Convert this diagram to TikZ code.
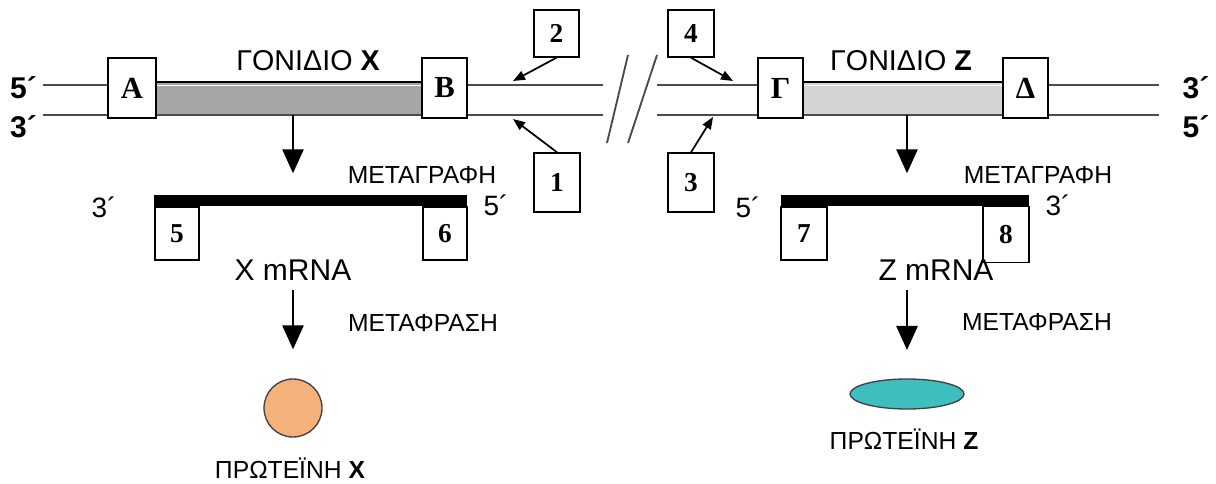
\documentclass[tikz,border=0pt]{standalone}
\usepackage{fontspec}
\setmainfont{Liberation Sans}
\newfontfamily\boxfont{Liberation Serif}
\usetikzlibrary{arrows.meta,shapes.geometric}

\definecolor{strand}{RGB}{75,75,75}
\definecolor{geneX}{RGB}{166,166,166}
\definecolor{geneZ}{RGB}{212,212,212}
\definecolor{protX}{RGB}{245,177,122}
\definecolor{protZ}{RGB}{62,190,190}

\newcommand{\fs}[1]{\fontsize{#1}{#1}\selectfont}

\begin{document}
\begin{tikzpicture}[x=0.75pt,y=-0.75pt,
  strandline/.style={draw=strand,line width=1.8pt},
  labelbox/.style={draw,line width=1.3pt,fill=white,inner sep=0pt,
    font=\boxfont\bfseries\fs{23}},
  genebox/.style={labelbox,minimum width=34pt,minimum height=45pt},
  numbox/.style={labelbox,minimum width=34pt,minimum height=35pt,
    font=\boxfont\bfseries\fs{20.5}},
  rnabox/.style={numbox,minimum width=33.5pt,minimum height=40pt},
  genelabel/.style={inner sep=0pt,font=\fs{21.5}},
  endlabel/.style={inner sep=0pt,font=\bfseries\fs{22.5}},
  rnaend/.style={inner sep=0pt,font=\fs{21}},
  steplabel/.style={inner sep=0pt,font=\fs{18.5}},
  rnalabel/.style={inner sep=0pt,font=\fs{22.5}},
  protlabel/.style={inner sep=0pt,font=\fs{18.5}},
  bigarrow/.style={line width=1.2pt,-{Triangle[width=16pt,length=18pt]}},
  smallarrow/.style={line width=1.3pt,-{Triangle[width=7pt,length=9pt]}},
  slash/.style={draw=strand,line width=1.4pt}]

\useasboundingbox (0,0) rectangle (1216,484);

% DNA strands on both sides of the break
\draw[strandline] (43,85) -- (603,85);
\draw[strandline] (43,115) -- (603,115);
\draw[strandline] (657,85) -- (1159,85);
\draw[strandline] (657,115) -- (1159,115);

% the break
\draw[slash] (607,143) -- (628,55);
\draw[slash] (628,143) -- (657,55);

% coding regions of the two genes
\node[fill=geneX,minimum width=199.5pt,minimum height=24.75pt,inner sep=0pt] (gX) at (289,98.5) {};
\node[fill=geneZ,minimum width=150pt,minimum height=24.75pt,inner sep=0pt] (gZ) at (903,98.5) {};
\draw[line width=1.3pt] (gX.north west) -- (gX.north east);
\draw[line width=1.3pt] (gZ.north west) -- (gZ.north east);
\draw[white,line width=0.8pt] ([yshift=-2.5pt]gX.north west) -- ([yshift=-2.5pt]gX.north east);
\draw[white,line width=0.8pt] ([yshift=-2.5pt]gZ.north west) -- ([yshift=-2.5pt]gZ.north east);
\draw[strand,line width=1.3pt] (gX.south west) -- (gX.south east);
\draw[strand,line width=1.3pt] (gZ.south west) -- (gZ.south east);

% end labels of the strands
\node[endlabel] (l5) at (23.5,88) {5´};
\node[endlabel] (l3) at (23.5,127) {3´};
\node[endlabel] (r3) at (1196,88) {3´};
\node[endlabel] (r5) at (1196,127) {5´};

% gene names
\node[genelabel] (nX) at (308,61) {ΓΟΝΙΔΙΟ \textbf{X}};
\node[genelabel] (nZ) at (901,61) {ΓΟΝΙΔΙΟ \textbf{Z}};

% boundary boxes of the genes
\node[genebox,minimum width=36pt] (A) at (132,88) {A};
\node[genebox] (B) at (444.5,88) {B};
\node[genebox] (G) at (780.5,88) {Γ};
\node[genebox] (D) at (1025.5,88) {Δ};

% numbered boxes pointing at the strands
\node[numbox] (n2) at (556.5,33.5) {2};
\node[numbox] (n4) at (691,33.5) {4};
\node[numbox,minimum height=44pt] (n1) at (557,182.5) {1};
\node[numbox,minimum height=44pt] (n3) at (691,182.5) {3};

\coordinate (t2) at (513,81);
\coordinate (t1) at (513,119);
\coordinate (t4) at (733,81);
\coordinate (t3) at (713,117);
\draw[smallarrow] (n2.south) -- (t2);
\draw[smallarrow] (n1.north) -- (t1);
\draw[smallarrow] (n4.south) -- (t4);
\draw[smallarrow] (n3.north) -- (t3);

% transcripts
\fill (154,195) rectangle (467,206);
\fill (781,195) rectangle (1029,206);
\node[rnabox] (n5) at (177,233.5) {5};
\node[rnabox] (n6) at (445,233.5) {6};
\node[rnabox,minimum width=34.5pt] (n7) at (804,233.5) {7};
\node[rnabox,minimum width=34.5pt,minimum height=42pt] (n8) at (1006,234.5) {8};

\node[rnaend] (m3l) at (104,207) {3´};
\node[rnaend] (m5l) at (496,205) {5´};
\node[rnaend] (m5r) at (748,207) {5´};
\node[rnaend] (m3r) at (1058,205) {3´};

\node[steplabel] (trX) at (422,175) {ΜΕΤΑΓΡΑΦΗ};
\node[steplabel] (trZ) at (1038,175) {ΜΕΤΑΓΡΑΦΗ};

\node[rnalabel] (xm) at (293,270) {X mRNA};
\node[rnalabel] (zm) at (936,270) {Z mRNA};

% proteins
\node[circle,draw=black!75,line width=1pt,fill=protX,minimum size=43.5pt,inner sep=0pt] (pX) at (293,408) {};
\node[ellipse,draw=black!75,line width=1pt,fill=protZ,minimum width=85.5pt,minimum height=22.5pt,inner sep=0pt] (pZ) at (907,394) {};

\node[steplabel] (tlX) at (423,323) {ΜΕΤΑΦΡΑΣΗ};
\node[steplabel] (tlZ) at (1037,322) {ΜΕΤΑΦΡΑΣΗ};

\node[protlabel] (lpX) at (290,468) {ΠΡΩΤΕΪΝΗ \textbf{X}};
\node[protlabel] (lpZ) at (904,439) {ΠΡΩΤΕΪΝΗ \textbf{Z}};

% transcription and translation arrows
\draw[bigarrow] (gX.south -| pX.center) -- ++(0,58);
\draw[bigarrow] (gZ.south -| pZ.center) -- ++(0,58);
\coordinate (zs) at (907,290);
\coordinate (ze) at (907,350);
\draw[bigarrow,shorten <=6.75pt,shorten >=21.75pt] (xm.south) -- (pX.north);
\draw[bigarrow] (zs) -- (ze);

\end{tikzpicture}
\end{document}
